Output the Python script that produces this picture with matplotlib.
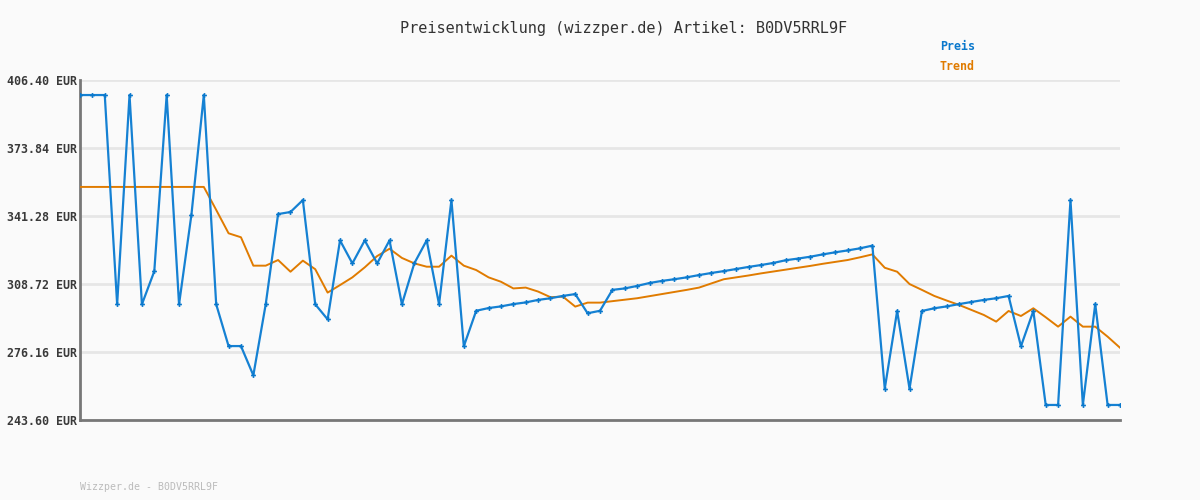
import matplotlib
matplotlib.use('agg')
from matplotlib import pyplot as plt

title = 'Preisentwicklung (wizzper.de) Artikel: B0DV5RRL9F'
footer = 'Wizzper.de - B0DV5RRL9F'
y_ticks = [243.60, 276.16, 308.72, 341.28, 373.84, 406.40]

preis = [
    399.2, 399.2, 399.2, 299.0, 399.2, 299.0, 314.8, 399.2, 299.0, 341.9,
    399.2, 299.0, 279.0, 279.0, 265.0, 299.0, 342.2, 343.2, 348.9, 299.0,
    291.8, 329.6, 318.6, 329.6, 318.6, 329.6, 299.0, 318.6, 329.6, 299.0,
    348.9, 278.9, 295.9, 297.2, 298.0, 299.1, 299.9, 301.1, 301.9, 303.0,
    303.9, 294.7, 295.9, 305.9, 306.6, 307.8, 309.2, 310.2, 311.0, 311.9,
    313.0, 314.0, 314.9, 315.9, 316.9, 317.8, 318.8, 320.1, 320.9, 321.8,
    322.9, 323.9, 324.8, 325.8, 327.1, 258.6, 295.8, 258.6, 295.8, 297.1,
    298.0, 299.1, 300.1, 301.1, 301.9, 303.0, 278.9, 295.8, 250.8, 250.8,
    348.9, 250.8, 299.1, 250.8, 250.8,
]

trend = [
    355.2, 355.2, 355.2, 355.2, 355.2, 355.2, 355.2, 355.2, 355.2, 355.2,
    355.2, 344.2, 333.0, 331.1, 317.5, 317.5, 320.2, 314.6, 319.9, 315.8,
    304.6, 308.2, 311.9, 316.7, 322.1, 325.6, 321.2, 318.6, 317.0, 317.0,
    322.3, 317.5, 315.4, 311.9, 309.8, 306.6, 307.0, 305.1, 302.4, 302.7,
    297.9, 299.8, 299.8, 300.5, 301.2, 301.9, 302.9, 303.9, 304.9, 305.9,
    307.0, 309.0, 311.0, 311.9, 312.8, 313.8, 314.7, 315.6, 316.5, 317.4,
    318.4, 319.3, 320.2, 321.5, 322.9, 316.5, 314.6, 308.7, 305.9, 303.0,
    300.8, 298.7, 296.3, 293.9, 290.7, 295.8, 293.4, 297.1, 292.8, 288.3,
    293.1, 288.3, 288.3, 283.5, 278.2,
]

BG = '#fafafa'
BLUE = '#1581d3'
ORANGE = '#e07b00'
MONO = 'DejaVu Sans Mono'

fig = plt.figure(figsize=(12, 5), dpi=100, facecolor=BG)
ax = fig.add_axes([80 / 1200, 80 / 500, 1040 / 1200, 340 / 500], facecolor=BG)

x = list(range(len(preis)))
ax.plot(x, trend, color=ORANGE, linewidth=1.4, zorder=3)
ax.plot(x, preis, color=BLUE, linewidth=1.6, marker='P', markersize=3.5,
        markeredgewidth=0, markerfacecolor='#0a78cc', zorder=4)

ax.set_xlim(0, len(preis) - 1)
ax.set_ylim(y_ticks[0], y_ticks[-1])
ax.set_yticks(y_ticks)
ax.set_yticklabels([f'{v:.2f} EUR' for v in y_ticks], fontfamily=MONO,
                   fontweight='bold', fontsize=8.4, color='#3a3a3a')
ax.set_xticks([])
ax.tick_params(axis='y', length=0, pad=2)
ax.grid(axis='y', color='#e6e6e6', linewidth=2)
ax.set_axisbelow(True)

for side in ('top', 'right'):
    ax.spines[side].set_visible(False)
for side in ('left', 'bottom'):
    ax.spines[side].set_color('#777777')
    ax.spines[side].set_linewidth(2)

fig.text(624 / 1200, 1 - 28 / 500, title, ha='center', va='center',
         fontfamily=MONO, fontsize=11, color='#333333')
fig.text(940 / 1200, 1 - 47 / 500, 'Preis', ha='left', va='center',
         fontfamily=MONO, fontweight='bold', fontsize=8.4, color='#0a78cc')
fig.text(940 / 1200, 1 - 67 / 500, 'Trend', ha='left', va='center',
         fontfamily=MONO, fontweight='bold', fontsize=8.4, color=ORANGE)
fig.text(80 / 1200, 1 - 487 / 500, footer, ha='left', va='center',
         fontfamily=MONO, fontsize=7.1, color='#bbbbbb')

fig.savefig('out.png', dpi=100, facecolor=BG)
